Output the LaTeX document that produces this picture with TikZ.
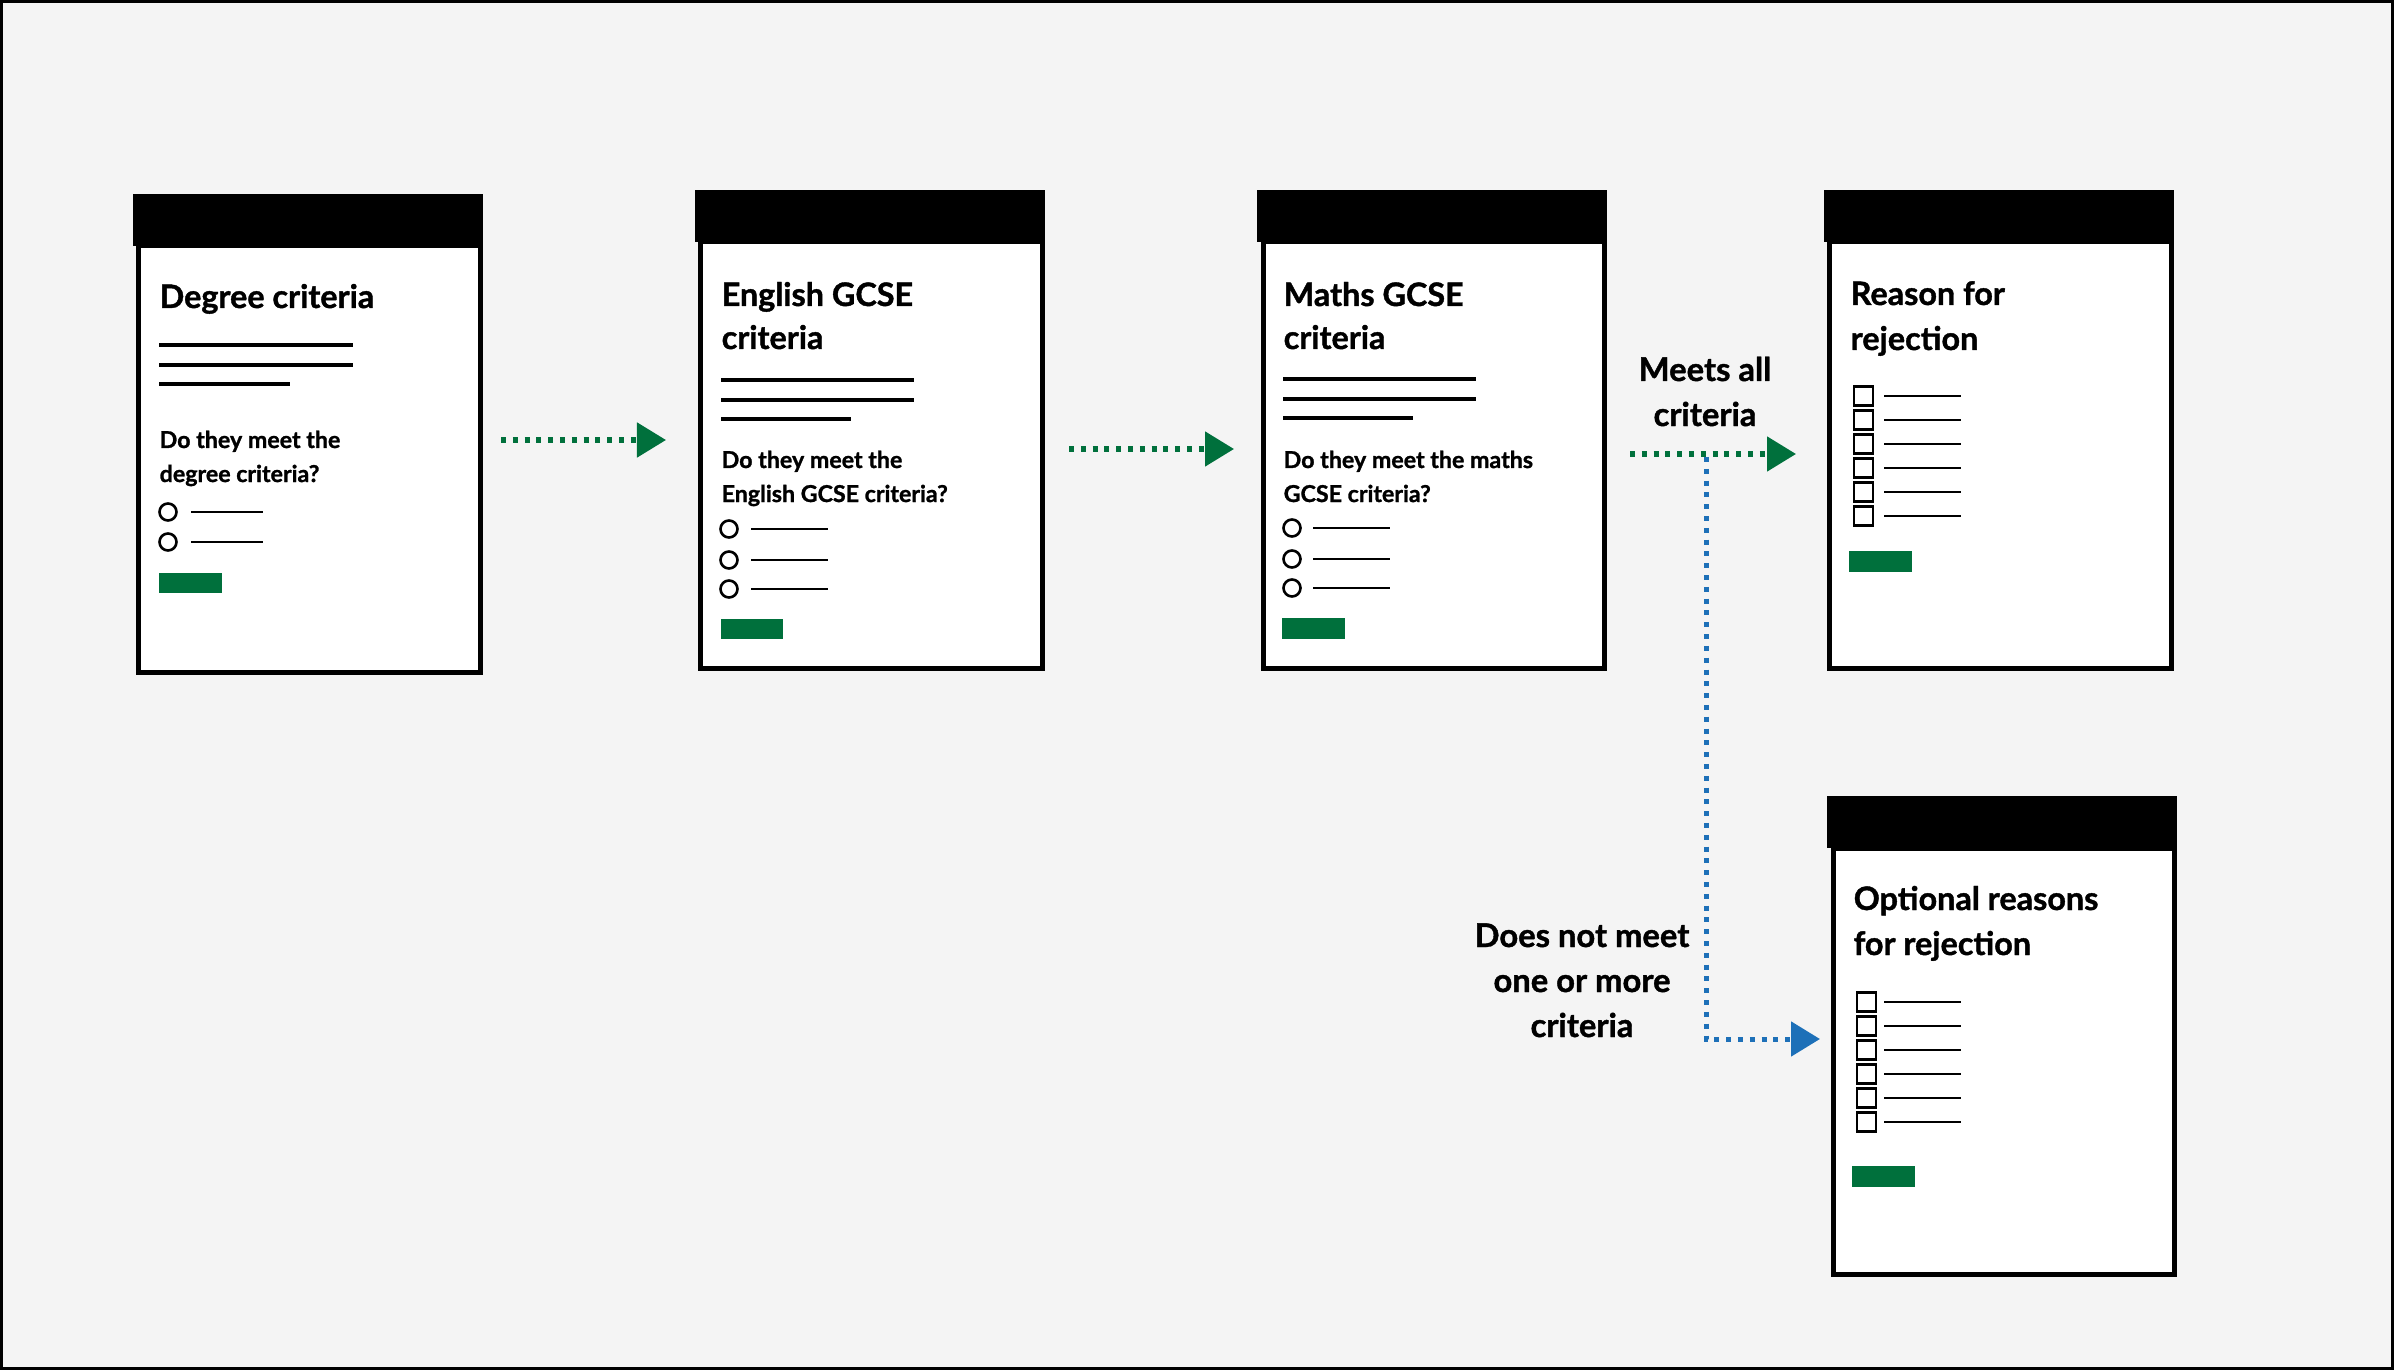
\documentclass[tikz,border=0pt]{standalone}
\usepackage{fontspec}
\setmainfont{Lato}[BoldFeatures={FakeBold=1.2}]
\usetikzlibrary{arrows.meta}
\definecolor{govgreen}{HTML}{00703C}
\definecolor{govblue}{HTML}{1D70B8}
\definecolor{canvas}{HTML}{F4F4F4}

\begin{document}
\begin{tikzpicture}[x=0.01cm,y=-0.01cm,
		cardbody/.style={draw=black,fill=white,line width=0.05cm},
		cardhead/.style={fill=black},
		txtline/.style={line width=0.032cm},
		optline/.style={line width=0.026cm},
		chkbox/.style={line width=0.027cm},
		btn/.style={fill=govgreen},
		heading/.style={anchor=base west,inner sep=0,font=\fontsize{9.2}{10}\selectfont\bfseries},
		question/.style={anchor=base west,inner sep=0,font=\fontsize{6.6}{7}\selectfont\bfseries},
		outcome/.style={anchor=base,inner sep=0,font=\fontsize{9.3}{10}\selectfont\bfseries},
		flow/.style={line width=0.05cm,dash pattern=on 0.05cm off 0.068cm,-{Triangle[length=0.29cm,width=0.34cm]}}]
				\useasboundingbox (0,0) rectangle (2394,1370);
				\draw [fill=canvas,line width=0.03cm] (1.5,1.5) rectangle (2392.5,1368.5);
				% degree
				\draw [cardbody] (138.5,246) rectangle (480,672.5);
				\fill [cardhead] (133,194) rectangle (483,246);
				\node [heading] (deg-t1) at (159,308) {Degree criteria};
				\draw [txtline] (159,345) -- (353,345);
				\draw [txtline] (159,365) -- (353,365);
				\draw [txtline] (159,384) -- (290,384);
				\node [question] (deg-q1) at (159,448) {Do they meet the};
				\node [question] (deg-q2) at (159,482) {degree criteria?};
				\draw [optline] (168,512) circle (0.085cm);
				\draw [optline] (191,512) -- (263,512);
				\draw [optline] (168,542) circle (0.085cm);
				\draw [optline] (191,542) -- (263,542);
				\fill [btn] (159,573) rectangle (222,593);
				% english
				\draw [cardbody] (700.5,242) rectangle (1042.5,668.5);
				\fill [cardhead] (695,190) rectangle (1045,242);
				\node [heading] (eng-t1) at (721,306) {English GCSE};
				\node [heading] (eng-t2) at (721,349) {criteria};
				\draw [txtline] (721,380) -- (914,380);
				\draw [txtline] (721,400) -- (914,400);
				\draw [txtline] (721,419) -- (851,419);
				\node [question] (eng-q1) at (721,468) {Do they meet the};
				\node [question] (eng-q2) at (721,502) {English GCSE criteria?};
				\draw [optline] (729,529) circle (0.085cm);
				\draw [optline] (751,529) -- (828,529);
				\draw [optline] (729,560) circle (0.085cm);
				\draw [optline] (751,560) -- (828,560);
				\draw [optline] (729,589) circle (0.085cm);
				\draw [optline] (751,589) -- (828,589);
				\fill [btn] (721,619) rectangle (783,639);
				% maths
				\draw [cardbody] (1263,242) rectangle (1604,668.5);
				\fill [cardhead] (1257,190) rectangle (1607,242);
				\node [heading] (mat-t1) at (1283,306) {Maths GCSE};
				\node [heading] (mat-t2) at (1283,349) {criteria};
				\draw [txtline] (1283,379) -- (1476,379);
				\draw [txtline] (1283,399) -- (1476,399);
				\draw [txtline] (1283,418) -- (1413,418);
				\node [question] (mat-q1) at (1283,468) {Do they meet the maths};
				\node [question] (mat-q2) at (1283,502) {GCSE criteria?};
				\draw [optline] (1292,528) circle (0.085cm);
				\draw [optline] (1313,528) -- (1390,528);
				\draw [optline] (1292,559) circle (0.085cm);
				\draw [optline] (1313,559) -- (1390,559);
				\draw [optline] (1292,588) circle (0.085cm);
				\draw [optline] (1313,588) -- (1390,588);
				\fill [btn] (1282,618) rectangle (1345,639);
				% reason for rejection
				\draw [cardbody] (1829.5,242) rectangle (2171.5,668);
				\fill [cardhead] (1824,190) rectangle (2174,242);
				\node [heading] (rej-t1) at (1850,305) {Reason for};
				\node [heading] (rej-t2) at (1850,350) {rejection};
				\draw [chkbox] (1854,386.5) rectangle (1873,405.5);
				\draw [optline] (1884,396) -- (1961,396);
				\draw [chkbox] (1854,410.5) rectangle (1873,429.5);
				\draw [optline] (1884,420) -- (1961,420);
				\draw [chkbox] (1854,434.5) rectangle (1873,453.5);
				\draw [optline] (1884,444) -- (1961,444);
				\draw [chkbox] (1854,458.5) rectangle (1873,477.5);
				\draw [optline] (1884,468) -- (1961,468);
				\draw [chkbox] (1854,482.5) rectangle (1873,501.5);
				\draw [optline] (1884,492) -- (1961,492);
				\draw [chkbox] (1854,506.5) rectangle (1873,525.5);
				\draw [optline] (1884,516) -- (1961,516);
				\fill [btn] (1849,551) rectangle (1912,572);
				% optional reasons
				\draw [cardbody] (1833,848) rectangle (2174,1274.5);
				\fill [cardhead] (1827,796) rectangle (2177,848);
				\node [heading] (opt-t1) at (1853,910) {Optional reasons};
				\node [heading] (opt-t2) at (1853,955) {for rejection};
				\draw [chkbox] (1857,992.5) rectangle (1876,1011.5);
				\draw [optline] (1884,1002) -- (1961,1002);
				\draw [chkbox] (1857,1016.5) rectangle (1876,1035.5);
				\draw [optline] (1884,1026) -- (1961,1026);
				\draw [chkbox] (1857,1040.5) rectangle (1876,1059.5);
				\draw [optline] (1884,1050) -- (1961,1050);
				\draw [chkbox] (1857,1064.5) rectangle (1876,1083.5);
				\draw [optline] (1884,1074) -- (1961,1074);
				\draw [chkbox] (1857,1088.5) rectangle (1876,1107.5);
				\draw [optline] (1884,1098) -- (1961,1098);
				\draw [chkbox] (1857,1112.5) rectangle (1876,1131.5);
				\draw [optline] (1884,1122) -- (1961,1122);
				\fill [btn] (1852,1166) rectangle (1915,1187);
				% flow between cards
				\coordinate (deg-out) at (501,440);
				\coordinate (eng-in) at (666,440);
				\coordinate (eng-out) at (1069,449);
				\coordinate (mat-in) at (1234,449);
				\coordinate (mat-out) at (1630,454);
				\coordinate (rej-in) at (1796,454);
				\coordinate (split) at (1706,457);
				\coordinate (opt-in) at (1820,1039);
				\draw [flow,govgreen] (deg-out) -- (eng-in);
				\draw [flow,govgreen] (eng-out) -- (mat-in);
				\draw [flow,govgreen] (mat-out) -- (rej-in);
				\draw [flow,govblue] (split) |- (opt-in);
				\node [outcome] (meets1) at (1705,381) {Meets all};
				\node [outcome] (meets2) at (1705,426) {criteria};
				\node [outcome] (fails1) at (1582,947) {Does not meet};
				\node [outcome] (fails2) at (1582,992) {one or more};
				\node [outcome] (fails3) at (1582,1037) {criteria};
			\end{tikzpicture}
\end{document}
